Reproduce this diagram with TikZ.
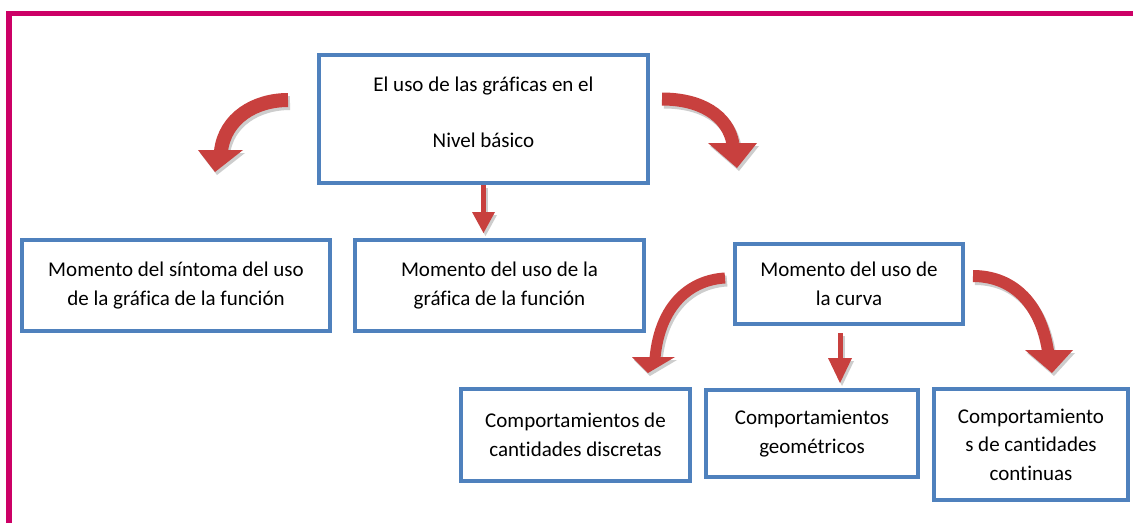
\documentclass[tikz,border=0pt]{standalone}
\usepackage{fontspec}
\setmainfont{Carlito}[Ligatures=NoCommon]
\definecolor{boxblue}{RGB}{79,129,189}
\definecolor{arrred}{RGB}{200,64,62}
\definecolor{shadowgray}{RGB}{205,205,205}
\definecolor{framemag}{RGB}{204,0,102}
\begin{document}
\begin{tikzpicture}[x=1pt,y=-1pt,
  box/.style={draw=boxblue, line width=4pt, fill=white, align=center, inner sep=0pt,
    font=\fontsize{21}{28.5}\selectfont},
  boxtext/.style={align=center, inner sep=0pt, font=\fontsize{21}{28.5}\selectfont},
  shaft/.style={line width=#1},
  shaft/.default=13pt]
\useasboundingbox (0,0) rectangle (1133,523);
\fill[white] (0,0) rectangle (1133,523);
% frame
\fill[framemag] (6,11) rectangle (1133,16);
\fill[framemag] (6,11) rectangle (12,523);
% boxes
\node[box, minimum width=329pt, minimum height=128pt] (top) at (483.5,119) {};
\node[boxtext] (toptext) at (483.5,112) {El uso de las gráficas en el\\[27.5pt]Nivel básico};
\node[box, minimum width=308pt, minimum height=91pt] (a) at (176,285.5) {Momento del síntoma del uso\\de la gráfica de la función};
\node[box, minimum width=289pt, minimum height=91pt] (b) at (499.5,285.5) {Momento del uso de la\\gráfica de la función};
\node[box, minimum width=228pt, minimum height=80pt] (c) at (849,284) {Momento del uso de\\la curva};
\node[box, minimum width=229pt, minimum height=92pt] (d) at (575.5,435) {Comportamientos de\\cantidades discretas};
\node[box, minimum width=212pt, minimum height=87pt] (e) at (812,433.5) {Comportamientos\\geométricos};
\node[box, minimum width=194pt, minimum height=111pt] (f) at (1031,444.5) {Comportamiento\\s de cantidades\\continuas};
% arrows (shadow then arrow)
\foreach \dx/\dy/\col in {2/3/shadowgray, 0/0/arrred} {
  \begin{scope}[shift={(\dx,\dy)}]
    % arrow 1: top -> a
    \draw[shaft=14pt, \col] (288,100) .. controls (255,100) and (225,118) .. (221,151);
    \fill[\col] (198,150) -- (243,150) -- (215,172) -- cycle;
    % arrow 2: top -> c
    \draw[shaft=13pt, \col] (662,99) .. controls (700,99) and (728,115) .. (733,144);
    \fill[\col] (708,143) -- (757,143) -- (737,168) -- cycle;
    % arrow 3: top -> b
    \draw[shaft=5pt, \col] (483.5,185) -- (483.5,213);
    \fill[\col] (472,212) -- (495,212) -- (483.5,233) -- cycle;
    % arrow 4: c -> d
    \draw[shaft=11pt, \col] (725,278) .. controls (690,280) and (660,305) .. (655,358);
    \fill[\col] (632,357) -- (675,357) -- (648,373) -- cycle;
    % arrow 5: c -> e
    \draw[shaft=5pt, \col] (840,333) -- (840,359);
    \fill[\col] (828,358) -- (852,358) -- (840,383) -- cycle;
    % arrow 6: c -> f
    \draw[shaft=12pt, \col] (973,276) .. controls (1010,276) and (1040,300) .. (1048,351);
    \fill[\col] (1025,350) -- (1073,350) -- (1052,373) -- cycle;
  \end{scope}
}
\end{tikzpicture}
\end{document}
